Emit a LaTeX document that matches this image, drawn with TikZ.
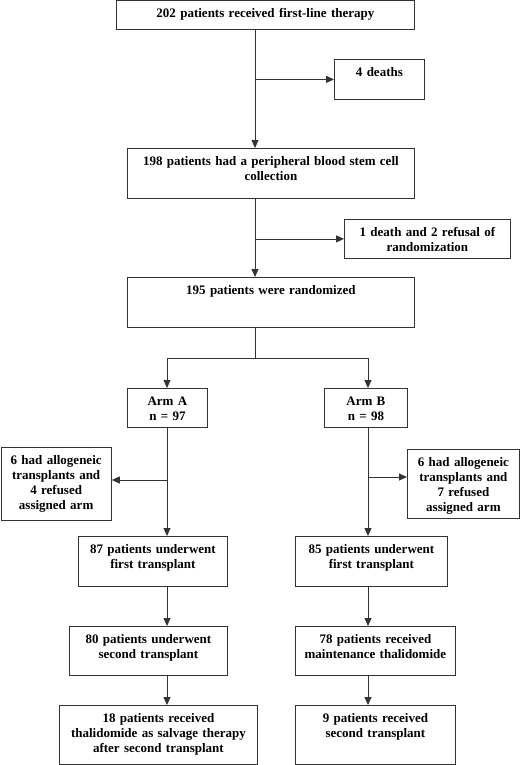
\documentclass[tikz,border=0pt]{standalone}
\usepackage{fontspec}
\setmainfont{Liberation Serif}
\usetikzlibrary{arrows.meta,positioning}

\begin{document}
\begin{tikzpicture}[x=1pt,y=-1pt,
  box/.style={draw=black!80, line width=0.8pt, anchor=north west, inner sep=0pt,
    align=center, text height=17pt, font=\fontsize{13}{15}\selectfont\bfseries},
  line/.style={draw=black!80, line width=0.8pt},
  arr/.style={line, -{Triangle[length=8pt,width=7pt]}}]
\useasboundingbox (0,0) rectangle (520,765);
\node[box, text width=298pt, text depth=11.5pt] (start) at (116,0.5) {202 patients received first-line therapy};
\node[box, text width=90pt, text depth=23pt] (deaths) at (334,59) {4 deaths};
\node[box, text width=287pt, text depth=33pt] (pbsc) at (127,148) {198 patients had a peripheral blood stem cell\\collection};
\node[box, text width=166pt, text depth=22pt] (refus) at (344,219) {1 death and 2 refusal of\\randomization};
\node[box, text width=287pt, text depth=33pt] (rand) at (127,277) {195 patients were randomized};
\node[box, text width=80pt, text depth=22pt] (armA) at (127,388) {Arm A\\n = 97};
\node[box, text width=83pt, text depth=22pt] (armB) at (324,388) {Arm B\\n = 98};
\node[box, text width=110.5pt, text depth=56pt] (exclA) at (0.5,447) {6 had allogeneic\\transplants and\\4 refused\\assigned arm};
\node[box, text width=112pt, text depth=52pt] (exclB) at (407,449) {6 had allogeneic\\transplants and\\7 refused\\assigned arm};
\node[box, text width=149pt, text depth=33pt] (firstA) at (78,536) {87 patients underwent\\first transplant};
\node[box, text width=152pt, text depth=33pt] (firstB) at (295,536) {85 patients underwent\\first transplant};
\node[box, text width=158pt, text depth=32pt] (secondA) at (69,626) {80 patients underwent\\second transplant};
\node[box, text width=160pt, text depth=32pt] (thalB) at (295,626) {78 patients received\\maintenance thalidomide};
\node[box, text width=198pt, text depth=42pt] (salvA) at (59,705) {18 patients received\\thalidomide as salvage therapy\\after second transplant};
\node[box, text width=160pt, text depth=42pt] (secondB) at (295,705) {9 patients received\\second transplant};
% columns of the connectors
\coordinate (mid) at (255,0);
\coordinate (colA) at (167,0);
\coordinate (colB) at (368,0);
\coordinate (split) at (255,358);
\coordinate (forkA) at (167,480);
\coordinate (forkB) at (368,477);
\draw[arr] (start.south -| mid) -- (pbsc.north -| mid);
\draw[arr] (mid |- deaths.west) -- (deaths.west);
\draw[arr] (pbsc.south -| mid) -- (rand.north -| mid);
\draw[arr] (mid |- refus.west) -- (refus.west);
\draw[line] (rand.south -| mid) -- (split);
\draw[arr] (split) -| (armA.north -| colA);
\draw[arr] (split) -| (armB.north -| colB);
% arm A
\draw[arr] (armA.south -| colA) -- (firstA.north -| colA);
\draw[arr] (forkA) -- (forkA -| exclA.east);
\draw[arr] (firstA.south -| colA) -- (secondA.north -| colA);
\draw[arr] (secondA.south -| colA) -- (salvA.north -| colA);
% arm B
\draw[arr] (armB.south -| colB) -- (firstB.north -| colB);
\draw[arr] (forkB) -- (forkB -| exclB.west);
\draw[arr] (firstB.south -| colB) -- (thalB.north -| colB);
\draw[arr] (thalB.south -| colB) -- (secondB.north -| colB);
\end{tikzpicture}
\end{document}
